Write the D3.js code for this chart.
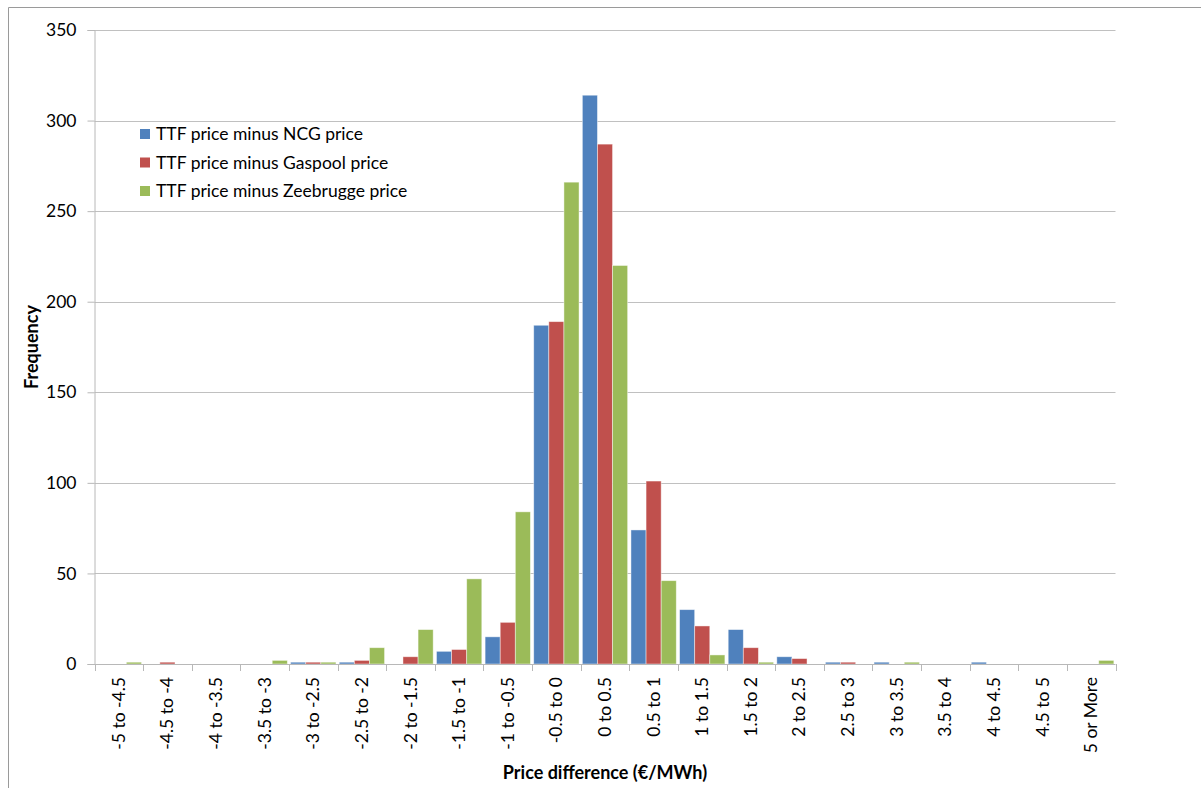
<!DOCTYPE html>
<html>
<head>
<meta charset="utf-8">
<script src="https://cdn.jsdelivr.net/npm/d3@7"></script>
<style>
  html, body { margin: 0; padding: 0; background: #fff; }
  svg { display: block; }
  text { font-family: Lato, "Open Sans", sans-serif; fill: #000; }
</style>
</head>
<body>
<svg id="chart" width="1201" height="788"></svg>
<script>
const categories = ["-5 to -4.5", "-4.5 to -4", "-4 to -3.5", "-3.5 to -3", "-3 to -2.5", "-2.5 to -2",
  "-2 to -1.5", "-1.5 to -1", "-1 to -0.5", "-0.5 to 0", "0 to 0.5", "0.5 to 1", "1 to 1.5",
  "1.5 to 2", "2 to 2.5", "2.5 to 3", "3 to 3.5", "3.5 to 4", "4 to 4.5", "4.5 to 5", "5 or More"];
const seriesNames = ["TTF price minus NCG price", "TTF price minus Gaspool price", "TTF price minus Zeebrugge price"];
const ncgValues       = [0, 0, 0, 0, 1, 1, 0, 7, 15, 187, 314, 74, 30, 19, 4, 1, 1, 0, 1, 0, 0];
const gaspoolValues   = [0, 1, 0, 0, 1, 2, 4, 8, 23, 189, 287, 101, 21, 9, 3, 1, 0, 0, 0, 0, 0];
const zeebruggeValues = [1, 0, 0, 2, 1, 9, 19, 47, 84, 266, 220, 46, 5, 1, 0, 0, 1, 0, 0, 0, 2];
const yTicks = [0, 50, 100, 150, 200, 250, 300, 350];
const colors = ["#4f81bd", "#c0504d", "#9bbb59"];

(function () {
const seriesValues = [ncgValues, gaspoolValues, zeebruggeValues];
const svg = d3.select("#chart");

// outer frame
svg.append("path")
  .attr("d", "M8.5,800 L8.5,7.5 L1210,7.5")
  .attr("fill", "none").attr("stroke", "#9a9a9a").attr("stroke-width", 1);

const pLeft = 94.5, pRight = 1115.5, pTop = 30, pBottom = 664;
const x = d3.scaleBand().domain(categories).range([pLeft, pRight]).paddingInner(0.068).paddingOuter(0.034);
const xFull = d3.scaleBand().domain(categories).range([pLeft, pRight]);
const x1 = d3.scaleBand().domain(d3.range(seriesNames.length)).range([0, x.bandwidth()]);
const y = d3.scaleLinear().domain([0, 350]).range([pBottom, pTop]);

// gridlines
svg.append("g").selectAll("line").data(yTicks.filter(d => d > 0)).join("line")
  .attr("x1", pLeft).attr("x2", pRight)
  .attr("y1", d => Math.round(y(d)) + 0.5).attr("y2", d => Math.round(y(d)) + 0.5)
  .attr("stroke", "#c0c0c0").attr("stroke-width", 1);

// y axis
const yAxis = d3.axisLeft(y).tickValues(yTicks).tickSize(7).tickPadding(11);
const gy = svg.append("g").attr("transform", `translate(${pLeft},0)`).call(yAxis);
gy.select(".domain").attr("stroke", "#b8b8b8");
gy.selectAll(".tick line").attr("stroke", "#b8b8b8");
gy.selectAll(".tick text").style("font-size", "17.5px").style("font-family", "Lato, sans-serif").attr("fill", "#000");

// bars
const groups = svg.append("g").selectAll("g").data(seriesNames).join("g")
  .attr("fill", (d, i) => colors[i]);
groups.each(function(name, si) {
  d3.select(this).selectAll("rect").data(seriesValues[si]).join("rect")
    .attr("x", (d, i) => x(categories[i]) + x1(si))
    .attr("width", x1.bandwidth())
    .attr("y", d => y(d))
    .attr("height", d => y(0) - y(d))
    .attr("stroke", "rgba(255,255,255,0.55)")
    .attr("stroke-width", 0.8);
});

// x axis
const gx = svg.append("g").attr("transform", `translate(0,${pBottom})`);
gx.append("line").attr("x1", pLeft).attr("x2", pRight).attr("y1", 0.5).attr("y2", 0.5).attr("stroke", "#b8b8b8");
const boundaries = categories.map(c => xFull(c)).concat([pRight]);
gx.selectAll("line.tk").data(boundaries).join("line").attr("class", "tk")
  .attr("x1", d => Math.round(d) + 0.5).attr("x2", d => Math.round(d) + 0.5)
  .attr("y1", 0).attr("y2", 7).attr("stroke", "#b8b8b8");
gx.selectAll("text").data(categories).join("text")
  .attr("transform", d => `translate(${xFull(d) + xFull.bandwidth() / 2 + 6},13) rotate(-90)`)
  .attr("text-anchor", "end")
  .style("font-size", "17.5px")
  .text(d => d);

// axis titles
svg.append("text")
  .attr("x", (pLeft + pRight) / 2).attr("y", 779)
  .attr("text-anchor", "middle").style("font-size", "18px").style("font-weight", "bold")
  .text("Price difference (€/MWh)");
svg.append("text")
  .attr("transform", `translate(38,${(pTop + pBottom) / 2}) rotate(-90)`)
  .attr("text-anchor", "middle").style("font-size", "18px").style("font-weight", "bold")
  .text("Frequency");

// legend
const legend = svg.append("g").selectAll("g").data(seriesNames).join("g")
  .attr("transform", (d, i) => `translate(140,${134 + i * 28.5})`);
legend.append("rect").attr("x", 0).attr("y", -5).attr("width", 10).attr("height", 10)
  .attr("fill", (d, i) => colors[i]);
legend.append("text").attr("x", 16).attr("y", 6).style("font-size", "17.5px").text(d => d);
})();
</script>
</body>
</html>
